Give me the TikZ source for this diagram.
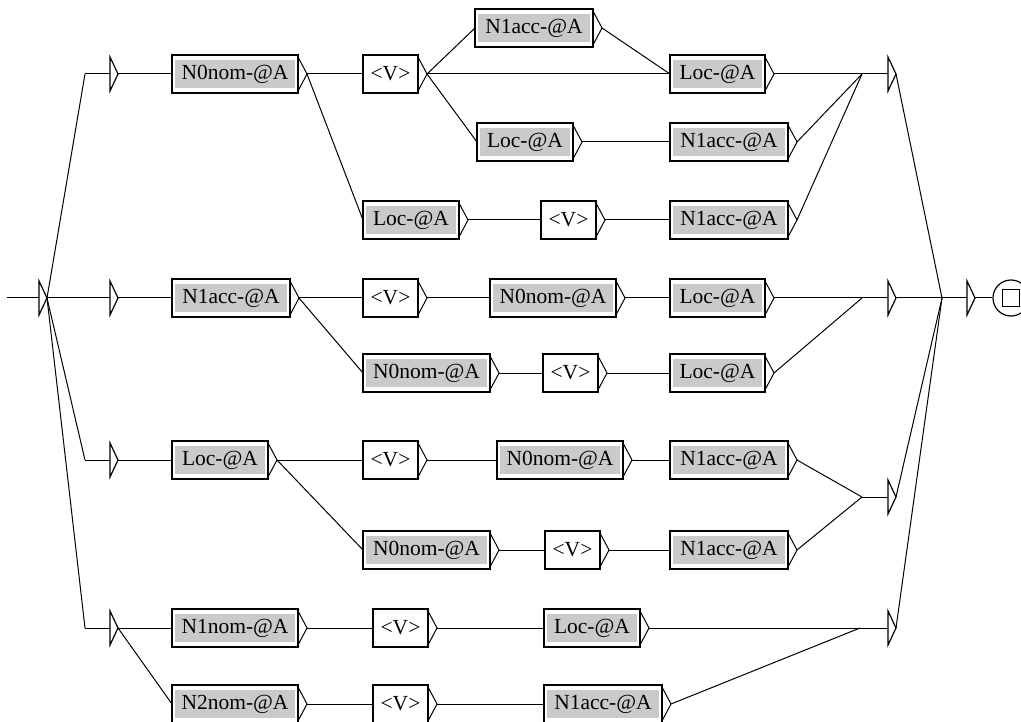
\documentclass[tikz,border=0pt]{standalone}
\usepackage{fontspec}
\setmainfont{Liberation Serif}
\definecolor{boxgrey}{RGB}{202,202,202}
\begin{document}
\begin{tikzpicture}[x=1pt,y=-1pt,
  edge/.style={line width=1pt,line join=miter},
  tri/.style={line width=1.2pt,line join=miter},
  wbox/.style={draw=black,line width=1.4pt,fill=white,minimum height=38pt,inner sep=0pt,outer sep=0pt,anchor=west,font=\fontsize{21.5}{24}\selectfont},
  gbox/.style={wbox,path picture={\fill[boxgrey] ([xshift=3pt,yshift=-5pt]path picture bounding box.north west) rectangle ([xshift=-3pt,yshift=5pt]path picture bounding box.south east);}}
]
\useasboundingbox[fill=white] (0,0) rectangle (1021,722);
% column A
\node[gbox,minimum width=126pt] (a1) at (172,74) {N0nom-@A};
\node[gbox,minimum width=118pt] (a4) at (172,298) {N1acc-@A};
\node[gbox,minimum width=96pt]  (a6) at (172,460) {Loc-@A};
\node[gbox,minimum width=126pt] (a8) at (172,628) {N1nom-@A};
\node[gbox,minimum width=126pt] (a9) at (172,704) {N2nom-@A};
% column B
\node[wbox,minimum width=55pt]  (b1) at (363,74) {<V>};
\node[gbox,minimum width=96pt]  (b3) at (363,220) {Loc-@A};
\node[wbox,minimum width=55pt]  (b4) at (363,298) {<V>};
\node[gbox,minimum width=127pt] (b5) at (363,373) {N0nom-@A};
\node[wbox,minimum width=55pt]  (b6) at (363,460) {<V>};
\node[gbox,minimum width=127pt] (b7) at (363,550) {N0nom-@A};
\node[wbox,minimum width=55pt]  (b8) at (373,628) {<V>};
\node[wbox,minimum width=55pt]  (b9) at (373,704) {<V>};
% column C
\node[gbox,minimum width=118pt] (c0) at (475,28) {N1acc-@A};
\node[gbox,minimum width=96pt]  (c2) at (477,142) {Loc-@A};
\node[wbox,minimum width=55pt]  (c3) at (541,220) {<V>};
\node[gbox,minimum width=126pt] (c4) at (490,298) {N0nom-@A};
\node[wbox,minimum width=55pt]  (c5) at (543,373) {<V>};
\node[gbox,minimum width=126pt] (c6) at (497,460) {N0nom-@A};
\node[wbox,minimum width=55pt]  (c7) at (545,550) {<V>};
\node[gbox,minimum width=96pt]  (c8) at (544,628) {Loc-@A};
\node[gbox,minimum width=118pt] (c9) at (544,704) {N1acc-@A};
% column D
\node[gbox,minimum width=95pt]  (d1) at (670,74) {Loc-@A};
\node[gbox,minimum width=118pt] (d2) at (670,142) {N1acc-@A};
\node[gbox,minimum width=118pt] (d3) at (670,220) {N1acc-@A};
\node[gbox,minimum width=95pt]  (d4) at (670,298) {Loc-@A};
\node[gbox,minimum width=95pt]  (d5) at (670,373) {Loc-@A};
\node[gbox,minimum width=118pt] (d6) at (670,460) {N1acc-@A};
\node[gbox,minimum width=118pt] (d7) at (670,550) {N1acc-@A};
% chevrons and output points
\foreach \n in {a1,a4,a6,a8,a9,b1,b3,b4,b5,b6,b7,b8,b9,c0,c2,c3,c4,c5,c6,c7,c8,c9,d1,d2,d3,d4,d5,d6,d7}{
  \draw[edge] ([yshift=-2pt]\n.north east) -- ([xshift=9pt]\n.east) -- ([yshift=2pt]\n.south east);
  \coordinate (\n o) at ([xshift=9pt]\n.east);
}
% empty (epsilon) boxes: input point, triangle and output point
\foreach \n/\x/\y/\ix in {I/39/298/7, E1/110/74/85, E2/110/298/48, E3/110/460/85, E4/110/628/85,
                         R1/888/74/862, R4/888/298/862, R6/888/497/862, R8/888/628/860, F/967/298/942}{
  \coordinate (\n) at (\x,\y);
  \coordinate (\n in) at (\ix,\y);
  \coordinate (\n o) at (\x+8,\y);
  \draw[tri] (\n) ++(0,-17) -- ++(8,17) -- ++(-8,17) -- cycle;
  \draw[edge] (\n in) -- (\n);
}
% final state
\node[draw=black,line width=1.2pt,circle,minimum size=36pt,inner sep=0pt] (fin) at (1011,298) {};
\node[draw=black,line width=1.4pt,minimum size=17pt,inner sep=0pt] (finsq) at (fin.center) {};
\draw[edge] (Fo) -- (fin.west);
% initial branches
\draw[edge] (Io) -- (E1in);
\draw[edge] (Io) -- (E3in);
\draw[edge] (Io) -- (E4in);
% first group
\draw[edge] (E1o) -- (a1.west);
\draw[edge] (a1o) -- (b1.west);
\draw[edge] (a1o) -- (b3.west);
\draw[edge] (b1o) -- (c0.west);
\draw[edge] (b1o) -- (d1.west);
\draw[edge] (b1o) -- (c2.west);
\draw[edge] (c0o) -- (d1.west);
\draw[edge] (c2o) -- (d2.west);
\draw[edge] (b3o) -- (c3.west);
\draw[edge] (c3o) -- (d3.west);
\draw[edge] (d1o) -- (R1in);
\draw[edge] (d2o) -- (R1in);
\draw[edge] (d3o) -- (R1in);
% second group
\draw[edge] (E2o) -- (a4.west);
\draw[edge] (a4o) -- (b4.west);
\draw[edge] (b4o) -- (c4.west);
\draw[edge] (c4o) -- (d4.west);
\draw[edge] (a4o) -- (b5.west);
\draw[edge] (b5o) -- (c5.west);
\draw[edge] (c5o) -- (d5.west);
\draw[edge] (d4o) -- (R4in);
\draw[edge] (d5o) -- (R4in);
% third group
\draw[edge] (E3o) -- (a6.west);
\draw[edge] (a6o) -- (b6.west);
\draw[edge] (b6o) -- (c6.west);
\draw[edge] (c6o) -- (d6.west);
\draw[edge] (a6o) -- (b7.west);
\draw[edge] (b7o) -- (c7.west);
\draw[edge] (c7o) -- (d7.west);
\draw[edge] (d6o) -- (R6in);
\draw[edge] (d7o) -- (R6in);
% fourth group
\draw[edge] (E4o) -- (a8.west);
\draw[edge] (E4o) -- (a9.west);
\draw[edge] (a8o) -- (b8.west);
\draw[edge] (b8o) -- (c8.west);
\draw[edge] (a9o) -- (b9.west);
\draw[edge] (b9o) -- (c9.west);
\draw[edge] (c8o) -- (R8in);
\draw[edge] (c9o) -- (R8in);
% collectors
\draw[edge] (R1o) -- (Fin);
\draw[edge] (R4o) -- (Fin);
\draw[edge] (R6o) -- (Fin);
\draw[edge] (R8o) -- (Fin);
\end{tikzpicture}
\end{document}
